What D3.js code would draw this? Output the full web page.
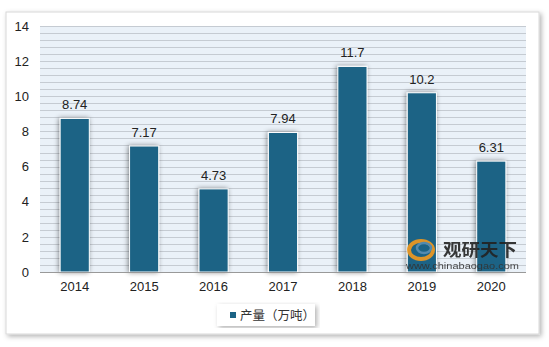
<!DOCTYPE html>
<html><head><meta charset="utf-8">
<script src="https://cdn.jsdelivr.net/npm/d3@7"></script>
<style>
html,body{margin:0;padding:0;background:#fff;}
svg{display:block;font-family:"Liberation Sans",Arial,sans-serif;}
</style></head>
<body>
<svg id="c" width="549" height="347"></svg>
<script>
const categories = ["2014","2015","2016","2017","2018","2019","2020"];
const values = [8.74, 7.17, 4.73, 7.94, 11.7, 10.2, 6.31];
const valueLabels = ["8.74","7.17","4.73","7.94","11.7","10.2","6.31"];
const yTicks = [0,2,4,6,8,10,12,14];
const seriesName = "产量（万吨）";

const svg = d3.select("#c");
const defs = svg.append("defs");
const f1 = defs.append("filter").attr("id","card").attr("x","-5%").attr("y","-5%").attr("width","110%").attr("height","112%");
f1.append("feDropShadow").attr("dx",2).attr("dy",2).attr("stdDeviation",2.5).attr("flood-color","#000").attr("flood-opacity",0.3);
const f2 = defs.append("filter").attr("id","bar").attr("x","-40%").attr("y","-10%").attr("width","180%").attr("height","120%");
f2.append("feDropShadow").attr("dx",-1).attr("dy",0).attr("stdDeviation",2.5).attr("flood-color","#000").attr("flood-opacity",0.45);

// card
svg.append("rect").attr("x",6).attr("y",12).attr("width",533).attr("height",322)
  .attr("fill","#fff").attr("stroke","#d8d8d8").attr("filter","url(#card)");

const m = {l:40, r:526, t:26, b:272};
const x = d3.scaleBand().domain(categories).range([m.l,m.r]).paddingInner(0.58).paddingOuter(0.29);
const y = d3.scaleLinear().domain([0,14]).range([m.b,m.t]);

svg.append("rect").attr("x",m.l).attr("y",m.t).attr("width",m.r-m.l).attr("height",m.b-m.t).attr("fill","#eaf1f8");
const minor = d3.range(0,14.0001,0.4);
svg.append("g").selectAll("line").data(minor).join("line")
  .attr("x1",m.l).attr("x2",m.r).attr("y1",d=>Math.round(y(d))+0.5).attr("y2",d=>Math.round(y(d))+0.5)
  .attr("stroke","#c5cbd2").attr("stroke-width",1);

// y axis
const ya = svg.append("g").attr("transform",`translate(${m.l},0)`)
  .call(d3.axisLeft(y).tickValues(yTicks).tickSize(0).tickPadding(11).tickFormat(d3.format("d")));
ya.select(".domain").remove();
ya.selectAll("text").attr("font-size",13).attr("fill","#222").attr("font-family","Liberation Sans, Arial, sans-serif");

// bars
svg.append("g").selectAll("rect").data(values).join("rect")
  .attr("x",(d,i)=>x(categories[i])).attr("y",d=>y(d)).attr("width",x.bandwidth()).attr("height",d=>y(0)-y(d))
  .attr("fill","#1b6385").attr("stroke","#fff").attr("stroke-width",1).attr("filter","url(#bar)");

// baseline
svg.append("line").attr("x1",m.l).attr("x2",m.r).attr("y1",m.b+0.5).attr("y2",m.b+0.5).attr("stroke","#999");

// x axis
const xa = svg.append("g").attr("transform",`translate(0,${m.b})`).call(d3.axisBottom(x).tickSize(0).tickPadding(10));
xa.select(".domain").remove();
xa.selectAll("text").attr("font-size",13).attr("fill","#222").attr("font-family","Liberation Sans, Arial, sans-serif");

// value labels
svg.append("g").selectAll("text").data(values).join("text")
  .attr("x",(d,i)=>x(categories[i])+x.bandwidth()/2).attr("y",d=>y(d)-9)
  .attr("text-anchor","middle").attr("font-size",13).attr("fill","#222").text((d,i)=>valueLabels[i]);

// watermark
const wm = svg.append("g").attr("opacity",0.9);
wm.append("ellipse").attr("cx",421).attr("cy",250).attr("rx",12).attr("ry",9).attr("fill","none").attr("stroke","#f29a1e").attr("stroke-width",4);
wm.append("ellipse").attr("cx",424).attr("cy",248).attr("rx",7).attr("ry",5).attr("fill","none").attr("stroke","#5a8fb3").attr("stroke-width",2.5);
wm.append("text").attr("x",443).attr("y",256).attr("font-size",17).attr("font-weight","bold").attr("fill","#222")
  .attr("textLength",74).attr("lengthAdjust","spacingAndGlyphs")
  .attr("font-family","Noto Sans CJK SC, sans-serif").text("观研天下");
wm.append("text").attr("x",406).attr("y",269).attr("font-size",9).attr("fill","#333")
  .attr("textLength",113).attr("lengthAdjust","spacingAndGlyphs").text("www.chinabaogao.com");

// legend
const lg = svg.append("g");
lg.append("rect").attr("x",217).attr("y",304).attr("width",98).attr("height",22).attr("fill","#fff")
  .attr("filter","url(#card)");
lg.append("rect").attr("x",230).attr("y",312).attr("width",6).attr("height",6).attr("fill","#1b6385");
lg.append("text").attr("x",240).attr("y",320).attr("font-size",12.5).attr("fill","#333")
  .attr("font-family","Noto Sans CJK SC, sans-serif").text(seriesName);
</script>
</body></html>
